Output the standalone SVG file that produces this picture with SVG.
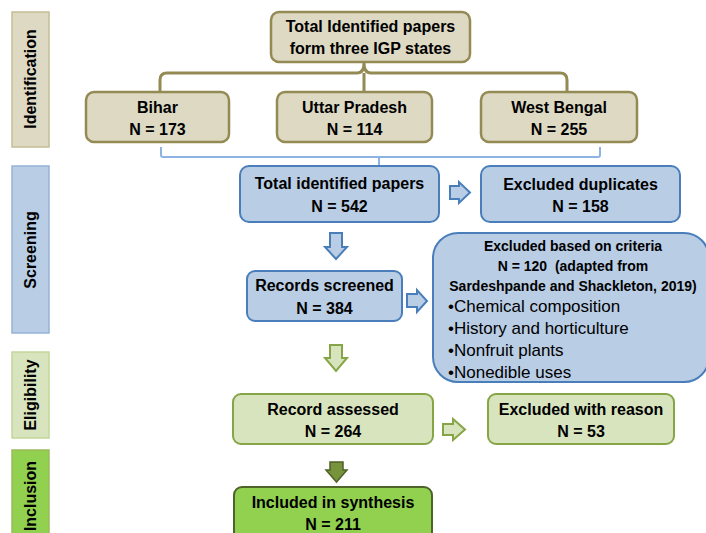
<svg xmlns="http://www.w3.org/2000/svg" width="706" height="533" viewBox="0 0 706 533">
<style>
text{font-family:"Liberation Sans",Arial,sans-serif;fill:#000;text-anchor:middle}
.b{font-weight:bold;font-size:16px}
.s{font-weight:bold;font-size:14px}
.r{font-size:17px;text-anchor:start}
.tan{fill:#ddd9c3;stroke:#948a54;stroke-width:2.5}
.blue{fill:#b9cde5;stroke:#4a7ebb;stroke-width:2}
.lg{fill:#d7e4bd;stroke:#86a546;stroke-width:2}
.dg{fill:#92d050;stroke:#4f6228;stroke-width:2}
.side{font-weight:bold;font-size:16px}
</style>
<rect width="706" height="533" fill="#fff"/>
<g id="phases">
<g id="phase-identification"><rect x="12" y="12" width="37" height="135" fill="#ddd9c3" stroke="#c4bd97" stroke-width="1.5"/><text class="side" transform="translate(36,79) rotate(-90)">Identification</text></g>
<g id="phase-screening"><rect x="12" y="166" width="37" height="167" fill="#b9cde5" stroke="#95b3d7" stroke-width="1.5"/><text class="side" transform="translate(36,250) rotate(-90)">Screening</text></g>
<g id="phase-eligibility"><rect x="12" y="352" width="37" height="86" fill="#d7e4bd" stroke="#c3d69b" stroke-width="1.5"/><text class="side" transform="translate(36,395) rotate(-90)">Eligibility</text></g>
<g id="phase-inclusion"><rect x="12" y="450" width="37" height="95" fill="#92d050" stroke="#9bbb59" stroke-width="1.5"/><text class="side" transform="translate(36,496) rotate(-90)">Inclusion</text></g>
</g>
<g id="connectors">
<path d="M160,92 L160,80 Q160,73 167,73 L357,73 Q364,73 364,63 Q364,73 371,73 L560,73 Q567,73 567,80 L567,92 M364,73 L364,92" fill="none" stroke="#948a54" stroke-width="3"/>
<path d="M161,147 L161,155 Q161,157 163,157 L598,157 Q600,157 600,155 L600,147 M379,157 L379,166" fill="none" stroke="#8db3e2" stroke-width="2"/>
<polygon points="330,233 342,233 342,247 347,247 336,259 325,247 330,247" fill="#b9cde5" stroke="#4a7ebb" stroke-width="2"/>
<polygon points="450,186 459,186 459,182 470,192.5 459,203 459,199 450,199" fill="#b9cde5" stroke="#4a7ebb" stroke-width="2"/>
<polygon points="407,294 417,294 417,290 427,301 417,312 417,307 407,307" fill="#b9cde5" stroke="#4a7ebb" stroke-width="2"/>
<polygon points="330,345 342,345 342,358 347,358 336,371 325,358 330,358" fill="#d7e4bd" stroke="#86a546" stroke-width="2"/>
<polygon points="443,424 453,424 453,419 465,429.5 453,440 453,435 443,435" fill="#d7e4bd" stroke="#86a546" stroke-width="2"/>
<polygon points="330,462 343,462 343,470 347,470 336.5,482 326,470 330,470" fill="#77933c" stroke="#4f6228" stroke-width="1.5"/>
</g>
<g id="node-total-igp"><rect class="tan" x="271" y="12" width="199" height="50" rx="8"/><text class="b" x="370.5" y="32">Total Identified papers</text><text class="b" x="370.5" y="54">form three IGP states</text></g>
<g id="node-bihar"><rect class="tan" x="86" y="92" width="143" height="50" rx="8"/><text class="b" x="157.5" y="113">Bihar</text><text class="b" x="157.5" y="135">N = 173</text></g>
<g id="node-up"><rect class="tan" x="277" y="92" width="155" height="50" rx="8"/><text class="b" x="354.5" y="113">Uttar Pradesh</text><text class="b" x="354.5" y="135">N = 114</text></g>
<g id="node-wb"><rect class="tan" x="481" y="92" width="156" height="50" rx="8"/><text class="b" x="559" y="113">West Bengal</text><text class="b" x="559" y="135">N = 255</text></g>
<g id="node-total"><rect class="blue" x="240" y="166" width="199" height="56" rx="9"/><text class="b" x="339.5" y="189">Total identified papers</text><text class="b" x="339.5" y="212">N = 542</text></g>
<g id="node-dup"><rect class="blue" x="481" y="166" width="199" height="56" rx="9"/><text class="b" x="580.5" y="190">Excluded duplicates</text><text class="b" x="580.5" y="212">N = 158</text></g>
<g id="node-screened"><rect class="blue" x="247" y="271" width="155" height="50" rx="8"/><text class="b" x="324.5" y="291">Records screened</text><text class="b" x="324.5" y="314">N = 384</text></g>
<g id="node-criteria"><rect class="blue" x="433" y="233" width="276" height="149" rx="25"/>
<text class="s" x="573" y="251">Excluded based on criteria</text>
<text class="s" x="573" y="271" xml:space="preserve">N = 120  (adapted from</text>
<text class="s" x="573" y="291">Sardeshpande and Shackleton, 2019)</text>
<text class="r" x="448" y="312">•Chemical composition</text>
<text class="r" x="448" y="334">•History and horticulture</text>
<text class="r" x="448" y="356">•Nonfruit plants</text>
<text class="r" x="448" y="378">•Nonedible uses</text></g>
<g id="node-assessed"><rect class="lg" x="233" y="394" width="200" height="50" rx="8"/><text class="b" x="333" y="415">Record assessed</text><text class="b" x="333" y="437">N = 264</text></g>
<g id="node-reason"><rect class="lg" x="488" y="394" width="186" height="50" rx="8"/><text class="b" x="581" y="415">Excluded with reason</text><text class="b" x="581" y="437">N = 53</text></g>
<g id="node-included"><rect class="dg" x="234" y="487" width="198" height="60" rx="8"/><text class="b" x="333" y="508">Included in synthesis</text><text class="b" x="333" y="530">N = 211</text></g>
</svg>
